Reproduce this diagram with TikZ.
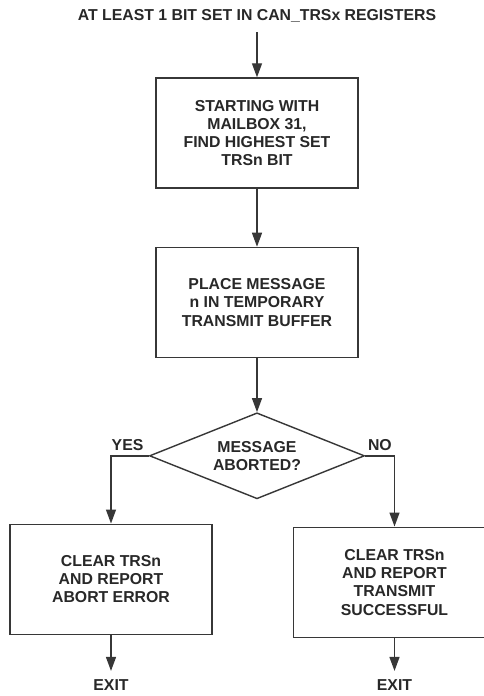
\documentclass[tikz,border=0pt]{standalone}
\usepackage{fontspec}
\setmainfont{Liberation Sans}
\usepackage{tikz}
\usetikzlibrary{
    shapes.geometric,
    arrows.meta,
    positioning,
    calc
}
\definecolor{Cline}{RGB}{55, 55, 55}
\definecolor{Ctext}{RGB}{40, 40, 40}
\tikzset{
    fproc/.style={
        rectangle, draw=Cline, line width=0.8pt,
        fill=white, text=Ctext, minimum width=4.04cm, minimum height=2.2cm,
        align=center, font=\fontsize{9}{10.4}\selectfont\bfseries, inner sep=4pt
    },
    fdec/.style={
        diamond, draw=Cline, line width=0.8pt, aspect=2.5,
        fill=white, text=Ctext, minimum width=4.3cm, minimum height=1.72cm,
        align=center, font=\fontsize{9}{10.4}\selectfont\bfseries, inner sep=0pt
    },
    flbl/.style={
        text=Ctext, font=\fontsize{9}{10.4}\selectfont\bfseries,
        inner xsep=0pt, text depth=0pt
    },
    farr/.style={-{Triangle[length=0.28cm, width=0.2cm]}, line width=0.8pt, Cline},
}

\begin{document}
\begin{tikzpicture}

    \useasboundingbox (-5.14,2.66) rectangle (4.54,-11.26);

    % ── main column ──────────────────────────────────────
    \node [fproc] (findbit) at (0,0)
        {STARTING WITH\\MAILBOX 31,\\FIND HIGHEST SET\\TRSn BIT};
    \node [flbl, inner ysep=0.22cm, above=0.9cm of findbit]
        (start) {AT LEAST 1 BIT SET IN CAN\_TRSx REGISTERS};
    \node [fproc, below=1.16cm of findbit]
        (place) {PLACE MESSAGE\\n IN TEMPORARY\\TRANSMIT BUFFER};
    \node [fdec, below=1.08cm of place]
        (aborted) {MESSAGE\\ABORTED?};

    % ── two branches ─────────────────────────────────────
    \node [fproc, below=0.48cm of aborted, xshift=-2.92cm]
        (abortrep) {CLEAR TRSn\\AND REPORT\\ABORT ERROR};
    \node [fproc, below=0.54cm of aborted, xshift=2.75cm]
        (okrep) {CLEAR TRSn\\AND REPORT\\TRANSMIT\\SUCCESSFUL};

    \node [flbl, inner ysep=0.17cm, below=0.72cm of abortrep] (exitl) {EXIT};
    \node [flbl, inner ysep=0.17cm, below=0.66cm of okrep] (exitr) {EXIT};

    % ── arrows ───────────────────────────────────────────
    \draw [farr] (start) -- (findbit);
    \draw [farr] (findbit) -- (place);
    \draw [farr] (place) -- (aborted);
    \draw [farr] (aborted.west) -| node[flbl, pos=0.5, anchor=south west, inner ysep=0.1cm]{YES} (abortrep.north);
    \draw [farr] (aborted.east) -| node[flbl, pos=0.5, anchor=south east, inner ysep=0.1cm, xshift=-0.04cm]{NO} (okrep.north);
    \draw [farr] (abortrep) -- (exitl);
    \draw [farr] (okrep) -- (exitr);

\end{tikzpicture}
\end{document}
